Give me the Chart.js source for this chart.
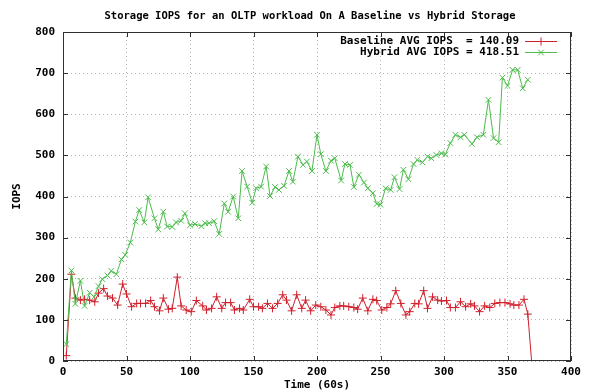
<!DOCTYPE html>
<html lang="en">
<head>
<meta charset="UTF-8">
<meta name="viewport" content="width=device-width, initial-scale=1.0">
<script src="https://cdn.jsdelivr.net/npm/chart.js@4.4.0/dist/chart.umd.min.js"></script>
<title>Storage IOPS</title>
<style>
  html, body {
    margin: 0;
    padding: 0;
    background: #fff;
  }
  .chart-container {
    position: relative;
    width: 590px;
    height: 392px;
  }
</style>
</head>
<body>
<div class="chart-container"><canvas id="iopsChart"></canvas></div>
<script>
// values (time in 60s units)
const chartTitle = 'Storage IOPS for an OLTP workload On A Baseline vs Hybrid Storage';

const baselineLabel = 'Baseline AVG IOPS  = 140.09';
const baselineTime = [2.6,6.6,9.7,13.7,17,21,25,28,32,35,39,43,47,50,54,58,61,65,69,72,
  76,79,83,86,90,93,97,101,105,110,113,117,121,125,128,132,135,139,142,147,
  150,154,157,161,165,169,173,176,180,184,188,191,195,199,203,207,211,214,218,221,
  225,229,232,236,240,244,247,251,255,258,262,266,270,273,277,280,284,287,291,295,
  298,302,305,309,313,317,321,324,328,332,336,340,344,348,352,355,359,363,366,370];
const baselineIops = [13,211,153,148,150,148,144,165,176,158,153,136,187,163,132,140,140,140,147,132,
  122,153,126,128,204,134,124,120,147,134,124,128,156,128,142,142,124,128,124,150,
  132,132,128,140,128,140,161,148,122,161,128,148,122,136,132,124,112,130,134,134,
  132,130,126,153,122,150,147,124,130,139,171,140,112,120,140,139,171,128,156,148,
  146,147,130,130,144,132,139,134,120,134,130,140,142,142,139,136,136,150,114,-40];

const hybridLabel = 'Hybrid AVG IOPS = 418.51';
const hybridTime = [2.6,6.6,9.7,13.7,17,21,24.5,28,31,35,38,42,46,49,53,57,60,64,67,72,
  75,79,82,86,89,93,96,100,104,109,112,115,119,123,127,130,134,138,141,145,
  149,152,156,160,163,167,170,174,178,181,185,189,192,196,200,203,207,211,214,219,
  222,226,229,233,237,240,244,247,250,254,258,261,265,268,272,276,279,283,287,290,
  294,298,301,305,309,313,316,322,326,331,335,339,343,346,350,354,358,362,366];
const hybridIops = [41,220,139,195,134,166,156,182,199,208,219,211,247,258,288,339,367,337,398,347,
  320,363,327,326,337,341,359,330,333,328,335,335,340,309,383,363,400,347,462,424,
  385,420,424,473,401,423,416,426,462,436,497,477,485,462,550,503,462,487,493,439,
  479,477,423,453,434,420,408,382,380,420,416,447,418,465,442,479,489,483,497,493,
  501,505,502,530,550,544,550,528,544,550,635,542,532,689,669,708,708,663,684];

const red = '#d0202c';
const green = '#4cbc4c';
const monoFont = '"DejaVu Sans Mono", "Liberation Mono", monospace';

Chart.defaults.font.family = monoFont;
Chart.defaults.font.weight = 'bold';
Chart.defaults.font.size = 11;
Chart.defaults.color = '#000';

// gnuplot-ish frame: border, inward ticks, title and key
const gnuplotFrame = {
  id: 'gnuplotFrame',
  afterDraw(chart) {
    const ctx = chart.ctx;
    const a = chart.chartArea;
    const xs = chart.scales.x;
    const ys = chart.scales.y;
    ctx.save();
    ctx.strokeStyle = '#303030';
    ctx.lineWidth = 1;
    ctx.setLineDash([]);
    ctx.strokeRect(a.left + 0.5, a.top + 0.5, a.right - a.left - 1, a.bottom - a.top - 1);

    ctx.beginPath();
    xs.ticks.forEach(t => {
      const px = Math.round(xs.getPixelForValue(t.value)) + 0.5;
      ctx.moveTo(px, a.bottom); ctx.lineTo(px, a.bottom - 5);
      ctx.moveTo(px, a.top); ctx.lineTo(px, a.top + 5);
    });
    ys.ticks.forEach(t => {
      const py = Math.round(ys.getPixelForValue(t.value)) + 0.5;
      ctx.moveTo(a.left, py); ctx.lineTo(a.left + 5, py);
      ctx.moveTo(a.right, py); ctx.lineTo(a.right - 5, py);
    });
    ctx.stroke();

    ctx.fillStyle = '#000';
    ctx.textBaseline = 'middle';
    ctx.font = 'bold 10.5px ' + monoFont;
    ctx.textAlign = 'center';
    ctx.fillText(chartTitle, 310, 16);

    ctx.font = 'bold 11px ' + monoFont;
    chart.data.datasets.forEach((ds, i) => {
      const y = a.top + 9 + i * 11;
      ctx.textAlign = 'right';
      ctx.fillStyle = '#000';
      ctx.fillText(ds.label, a.right - 52, y);
      ctx.strokeStyle = ds.borderColor;
      ctx.lineWidth = 1;
      ctx.beginPath();
      ctx.moveTo(a.right - 46, y + 0.5);
      ctx.lineTo(a.right - 14, y + 0.5);
      ctx.stroke();
      Chart.helpers.drawPoint(ctx, {
        pointStyle: ds.pointStyle, radius: ds.pointRadius, rotation: 0, borderWidth: 1
      }, a.right - 30, y + 0.5);
    });
    ctx.restore();
  }
};

const ctx = document.getElementById('iopsChart').getContext('2d');
new Chart(ctx, {
  type: 'line',
  data: {
    datasets: [{
      label: baselineLabel,
      data: baselineTime.map((t, i) => ({ x: t, y: baselineIops[i] })),
      borderColor: red,
      backgroundColor: red,
      borderWidth: 1,
      pointStyle: 'cross',
      pointRadius: 4,
      pointBorderWidth: 1,
      order: 1
    }, {
      label: hybridLabel,
      data: hybridTime.map((t, i) => ({ x: t, y: hybridIops[i] })),
      borderColor: green,
      backgroundColor: green,
      borderWidth: 1,
      pointStyle: 'crossRot',
      pointRadius: 4,
      pointBorderWidth: 1,
      order: 0
    }]
  },
  options: {
    responsive: true,
    maintainAspectRatio: false,
    animation: false,
    events: [],
    layout: { padding: { top: 32, right: 19, left: 0, bottom: 0 } },
    elements: { line: { tension: 0, fill: false } },
    scales: {
      x: {
        type: 'linear',
        min: 0,
        max: 400,
        ticks: { stepSize: 50, padding: 5, maxRotation: 0 },
        grid: { color: '#b4b4b4', drawTicks: false },
        border: { display: false, dash: [1, 3] },
        title: { display: true, text: 'Time (60s)', padding: { top: 0, bottom: 0 } },
        afterFit: scale => { scale.height = 31; }
      },
      y: {
        min: 0,
        max: 800,
        ticks: { stepSize: 100, padding: 8 },
        grid: { color: '#b4b4b4', drawTicks: false },
        border: { display: false, dash: [1, 3] },
        title: { display: true, text: 'IOPS', padding: { top: 11, bottom: 0 } },
        afterFit: scale => { scale.width = 63; }
      }
    },
    plugins: {
      legend: { display: false },
      tooltip: { enabled: false },
      title: { display: false }
    }
  },
  plugins: [gnuplotFrame]
});
</script>
</body>
</html>
